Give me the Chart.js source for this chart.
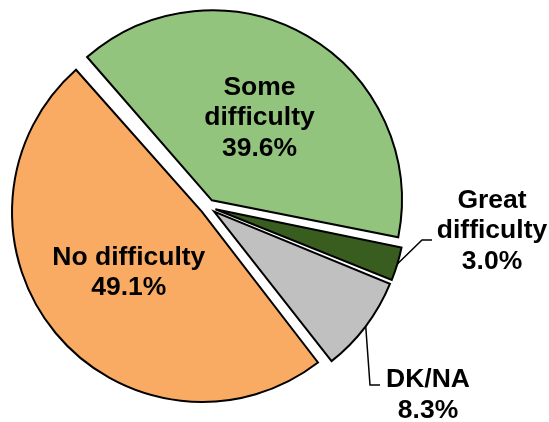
<!DOCTYPE html>
<html lang="en">
<head>
<meta charset="UTF-8">
<title>Difficulty</title>
<script src="https://cdn.jsdelivr.net/npm/chart.js@4.4.1/dist/chart.umd.min.js"></script>
<style>
  html, body { margin: 0; padding: 0; background: #fff; }
  #wrap { position: relative; width: 549px; height: 422px; }
</style>
</head>
<body>
<div id="wrap"><canvas id="pie"></canvas></div>
<script>
// data
const categories = ['Some difficulty', 'Great difficulty', 'DK/NA', 'No difficulty'];
const shares = [39.6, 3.0, 8.3, 49.1];
const labelLines = [['Some', 'difficulty'], ['Great', 'difficulty'], ['DK/NA'], ['No difficulty']];
const colors = ['#93C47D', '#385D1E', '#C0C0C0', '#F9AB63'];

const PIE_RADIUS = 190;
const LINE_H = 30.5;

// where each label goes: inside (distance from centre) or outside with a leader
const placement = [
  { dist: 95 },
  { x: 492, y: 231, elbow: [422, 240], end: [432, 240] },
  { x: 428, y: 395, elbow: [370, 385], end: [380, 385] },
  { dist: 95 }
];

// chart.js grows offset slices' radius, undo that so all slices are the same size
const evenRadius = {
  id: 'evenRadius',
  beforeDatasetsDraw(chart) {
    chart.getDatasetMeta(0).data.forEach(arc => {
      const off = (arc.options.offset || 0) / 4;
      const fix = 1 - Math.sin(Math.min(Math.PI, arc.circumference));
      arc.outerRadius = PIE_RADIUS - off * fix;
    });
  }
};

const sliceLabels = {
  id: 'sliceLabels',
  afterDatasetsDraw(chart) {
    const ctx = chart.ctx;
    const meta = chart.getDatasetMeta(0);
    ctx.save();
    ctx.font = 'bold 26.5px "Liberation Sans", Arial, sans-serif';
    ctx.fillStyle = '#000';
    ctx.strokeStyle = '#000';
    ctx.lineWidth = 1.5;
    ctx.textAlign = 'center';
    ctx.textBaseline = 'middle';
    meta.data.forEach((arc, i) => {
      const mid = (arc.startAngle + arc.endAngle) / 2;
      const off = (arc.options.offset || 0) / 4;
      const cx = arc.x + Math.cos(mid) * off;
      const cy = arc.y + Math.sin(mid) * off;
      const lines = labelLines[i].concat(shares[i].toFixed(1) + '%');
      const p = placement[i];
      let lx, ly;
      if (p.dist) {
        lx = cx + Math.cos(mid) * p.dist;
        ly = cy + Math.sin(mid) * p.dist;
      } else {
        lx = p.x;
        ly = p.y;
        ctx.beginPath();
        ctx.moveTo(cx + Math.cos(mid) * PIE_RADIUS, cy + Math.sin(mid) * PIE_RADIUS);
        ctx.lineTo(p.elbow[0], p.elbow[1]);
        ctx.lineTo(p.end[0], p.end[1]);
        ctx.stroke();
      }
      lines.forEach((t, k) => {
        ctx.fillText(t, lx, ly + (k - (lines.length - 1) / 2) * LINE_H);
      });
    });
    ctx.restore();
  }
};

new Chart(document.getElementById('pie'), {
  type: 'pie',
  data: {
    labels: categories,
    datasets: [{
      data: shares,
      backgroundColor: colors,
      borderColor: '#000',
      borderWidth: 2,
      borderJoinStyle: 'miter',
      offset: 31
    }]
  },
  options: {
    responsive: true,
    maintainAspectRatio: false,
    animation: false,
    rotation: -41.2,
    radius: PIE_RADIUS,
    layout: { padding: { left: 0, top: 0, right: 133, bottom: 8 } },
    plugins: {
      legend: { display: false },
      tooltip: { enabled: false }
    }
  },
  plugins: [evenRadius, sliceLabels]
});
</script>
</body>
</html>
